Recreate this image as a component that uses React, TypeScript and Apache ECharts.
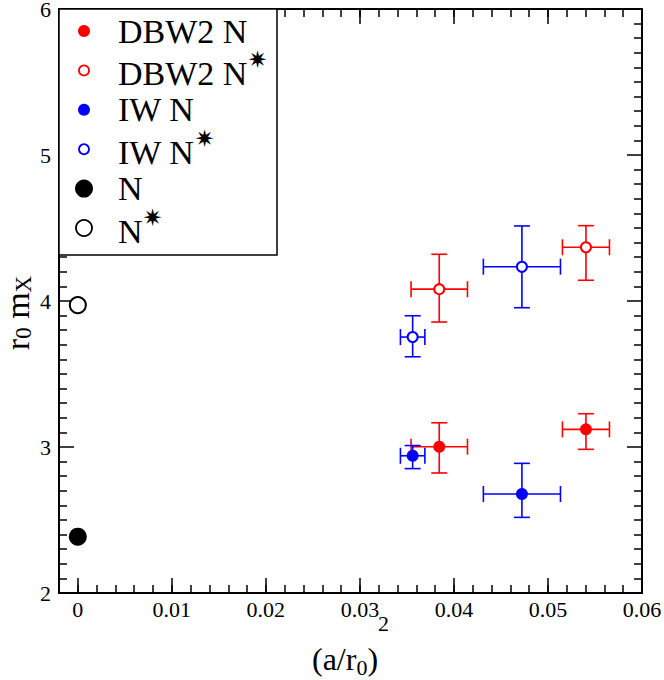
import React, { useEffect, useRef } from "react";
import * as echarts from "echarts";

// ---------- data ----------
// each point: [x, y, xError, yLow, yHigh]
const dbw2N = [
  [0.03844, 3.002, 0.003, 2.822, 3.166],
  [0.05404, 3.121, 0.0025, 2.984, 3.228],
];
const dbw2NStar = [
  [0.03844, 4.081, 0.003, 3.856, 4.32],
  [0.05404, 4.368, 0.0025, 4.142, 4.516],
];
const iwN = [
  [0.03561, 2.94, 0.0013, 2.852, 3.01],
  [0.04723, 2.678, 0.0041, 2.518, 2.888],
];
const iwNStar = [
  [0.03561, 3.753, 0.0013, 3.618, 3.899],
  [0.04723, 4.235, 0.0041, 3.954, 4.514],
];
const nCont = [[0, 2.386]];
const nStarCont = [[0, 3.972]];

const seriesNames = ["DBW2 N", "DBW2 N*", "IW N", "IW N*", "N", "N*"];
const legendLabels = ["DBW2 N", "DBW2 N{st|✷}", "IW N", "IW N{st|✷}", "N", "N{st|✷}"];
const xTickValues = [0, 0.01, 0.02, 0.03, 0.04, 0.05, 0.06];
const xMin = -0.002;
const xMax = 0.06;
const xMinorStep = 0.002;
const yMin = 2;
const yMax = 6;
const yStep = 1;
const xTitle = "(a/r{sub|0}){sup|2}";
const yTitle = "r{sub|0} m{sub|X}";

// ---------- styles ----------
const SERIF = "'Liberation Serif', 'Times New Roman', serif";
const styles = [
  { color: "#ff0000", empty: false, size: 12 },
  { color: "#ff0000", empty: true, size: 10 },
  { color: "#0000ff", empty: false, size: 12 },
  { color: "#0000ff", empty: true, size: 10 },
  { color: "#000000", empty: false, size: 18 },
  { color: "#000000", empty: true, size: 16 },
];
const seriesData = [dbw2N, dbw2NStar, iwN, iwNStar, nCont, nStarCont];

const GRID = { left: 59, right: 22, top: 9, bottom: 87 };

function errRender(color: string) {
  return (params: any, api: any) => {
    const x = api.value(0);
    const y = api.value(1);
    const xe = api.value(2);
    const yl = api.value(3);
    const yh = api.value(4);
    const c = api.coord([x, y]);
    const l = api.coord([x - xe, y]);
    const r = api.coord([x + xe, y]);
    const lo = api.coord([x, yl]);
    const hi = api.coord([x, yh]);
    const cap = 8;
    const style = { stroke: color, lineWidth: 1.6 };
    return {
      type: "group",
      children: [
        { type: "line", shape: { x1: l[0], y1: c[1], x2: r[0], y2: c[1] }, style },
        { type: "line", shape: { x1: l[0], y1: c[1] - cap, x2: l[0], y2: c[1] + cap }, style },
        { type: "line", shape: { x1: r[0], y1: c[1] - cap, x2: r[0], y2: c[1] + cap }, style },
        { type: "line", shape: { x1: c[0], y1: lo[1], x2: c[0], y2: hi[1] }, style },
        { type: "line", shape: { x1: c[0] - cap, y1: lo[1], x2: c[0] + cap, y2: lo[1] }, style },
        { type: "line", shape: { x1: c[0] - cap, y1: hi[1], x2: c[0] + cap, y2: hi[1] }, style },
      ],
    };
  };
}

function buildOption() {
  const minorX = (pos: "top" | "bottom") => ({
    type: "value",
    position: pos,
    min: xMin,
    max: xMax,
    interval: xMinorStep,
    axisLine: { show: true, onZero: false, lineStyle: { color: "#000", width: 2 } },
    axisTick: { show: true, inside: true, length: 8, lineStyle: { color: "#000", width: 1.5 } },
    axisLabel: { show: false },
    splitLine: { show: false },
  });
  const majorX = (pos: "top" | "bottom", showLabel: boolean) => ({
    type: "value",
    position: pos,
    min: xMin,
    max: xMax,
    axisLine: { show: false, onZero: false },
    axisTick: {
      show: true,
      inside: true,
      length: 15,
      customValues: xTickValues,
      lineStyle: { color: "#000", width: 1.5 },
    },
    axisLabel: {
      show: showLabel,
      customValues: xTickValues,
      fontSize: 22,
      fontFamily: SERIF,
      color: "#000",
      margin: 5,
      formatter: (v: number) => String(+v.toFixed(2)),
    },
    splitLine: { show: false },
  });
  const yAx = (pos: "left" | "right", showLabel: boolean) => ({
    type: "value",
    position: pos,
    min: yMin,
    max: yMax,
    interval: yStep,
    axisLine: { show: true, onZero: false, lineStyle: { color: "#000", width: 2 } },
    axisTick: { show: true, inside: true, length: 15, lineStyle: { color: "#000", width: 1.5 } },
    minorTick: { show: true, splitNumber: 10, length: 8, lineStyle: { color: "#000", width: 1.5 } },
    axisLabel: {
      show: showLabel,
      fontSize: 22,
      lineHeight: 18,
      fontFamily: SERIF,
      color: "#000",
      margin: 8,
      showMinLabel: true,
      showMaxLabel: true,
    },
    splitLine: { show: false },
    minorSplitLine: { show: false },
  });

  const series: any[] = [];
  seriesData.forEach((data, i) => {
    const st = styles[i];
    if (data[0].length >= 5) {
      series.push({
        type: "custom",
        name: seriesNames[i] + " err",
        xAxisIndex: 0,
        yAxisIndex: 0,
        renderItem: errRender(st.color),
        data: data,
        z: 2,
        silent: true,
      });
    }
    series.push({
      type: "scatter",
      name: seriesNames[i],
      xAxisIndex: 0,
      yAxisIndex: 0,
      symbol: st.empty ? "emptyCircle" : "circle",
      symbolSize: st.size,
      itemStyle: { color: st.color, opacity: 1 },
      data: data.map((p) => [p[0], p[1]]),
      z: 3,
    });
  });

  // legend drawn as graphic
  const legendLeft = GRID.left;
  const legendTop = GRID.top;
  const legendW = 218;
  const legendH = 246;
  const rowStart = legendTop + 22;
  const rowGap = 39.4;
  const symX = 84;
  const textX = 118;
  const legendEls: any[] = [
    {
      type: "rect",
      shape: { x: legendLeft, y: legendTop, width: legendW, height: legendH },
      style: { fill: "#fff", stroke: "#000", lineWidth: 1.5 },
      z: 100,
    },
  ];
  seriesNames.forEach((name, i) => {
    const st = styles[i];
    const cy = rowStart + i * rowGap;
    const outerR = (st.empty ? st.size + 2 : st.size) / 2;
    legendEls.push({
      type: "circle",
      shape: { cx: symX, cy, r: st.empty ? outerR - 1 : outerR },
      style: st.empty
        ? { fill: "#fff", stroke: st.color, lineWidth: 1.8 }
        : { fill: st.color },
      z: 101,
    });
    const hasStar = legendLabels[i].indexOf("{st|") >= 0;
    legendEls.push({
      type: "text",
      x: textX,
      y: hasStar ? cy + 3 : cy,
      style: {
        text: legendLabels[i],
        fontSize: 34,
        fontFamily: SERIF,
        fill: "#000",
        align: "left",
        verticalAlign: "middle",
        rich: {
          st: {
            fontSize: 24,
            fontFamily: "'DejaVu Sans', sans-serif",
            fill: "#000",
            padding: [0, 0, 26, 0],
          },
        },
      },
      z: 101,
    });
  });

  const titleEls: any[] = [
    {
      type: "text",
      x: 350.5,
      y: 659,
      style: {
        text: xTitle,
        fontSize: 32,
        fontFamily: SERIF,
        fill: "#000",
        align: "center",
        verticalAlign: "middle",
        rich: {
          sub: { fontSize: 22, fontFamily: SERIF, fill: "#000", padding: [17, 0, 0, 0] },
          sup: { fontSize: 22, fontFamily: SERIF, fill: "#000", padding: [0, 0, 72, 0] },
        },
      },
    },
    {
      type: "text",
      x: 17.5,
      y: 313,
      rotation: Math.PI / 2,
      style: {
        text: yTitle,
        fontSize: 34,
        fontFamily: SERIF,
        fill: "#000",
        align: "center",
        verticalAlign: "middle",
        rich: {
          sub: { fontSize: 23, fontFamily: SERIF, fill: "#000", padding: [12, 0, 0, 0] },
        },
      },
    },
  ];

  return {
    animation: false,
    backgroundColor: "#fff",
    grid: { ...GRID, containLabel: false, outerBoundsMode: "none" },
    xAxis: [minorX("bottom"), majorX("bottom", true), minorX("top"), majorX("top", false)],
    yAxis: [yAx("left", true), yAx("right", false)],
    series,
    graphic: [...titleEls, ...legendEls],
  };
}

export default function App() {
  const ref = useRef<HTMLDivElement>(null);
  useEffect(() => {
    if (!ref.current) return;
    const chart = echarts.init(ref.current, undefined, { renderer: "svg" });
    chart.setOption(buildOption() as any);
    return () => chart.dispose();
  }, []);
  return (
    <div
      ref={ref}
      style={{ position: "absolute", left: 0, top: 0, width: 664, height: 680, background: "#fff" }}
    />
  );
}
